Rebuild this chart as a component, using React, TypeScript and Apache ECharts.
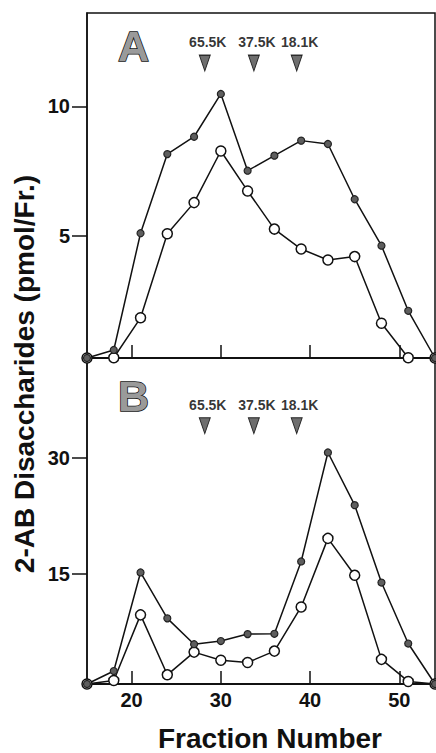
import React, { useEffect, useRef } from "react";
import * as echarts from "echarts";

// Fraction numbers sampled (every third fraction)
const fractions = [15, 18, 21, 24, 27, 30, 33, 36, 39, 42, 45, 48, 51, 54];

// Panel A values (pmol/Fr.)
const panelAFilled = [0.3, 0.61, 5.11, 8.16, 8.83, 10.48, 7.52, 8.1, 8.68, 8.55, 6.42, 4.63, 2.12, 0.3];
const panelAOpen = [0.3, 0.31, 1.85, 5.09, 6.29, 8.28, 6.74, 5.27, 4.5, 4.08, 4.21, 1.64, 0.31, 0.3];

// Panel B values (pmol/Fr.)
const panelBFilled = [0.7, 2.38, 15.14, 9.2, 5.85, 6.26, 7.16, 7.2, 16.56, 30.67, 23.85, 13.83, 5.94, 0.7];
const panelBOpen = [0.7, 1.15, 9.65, 1.89, 4.83, 3.77, 3.48, 4.96, 10.67, 19.55, 14.77, 3.89, 1.03, 0.7];

// Molecular weight markers
const markerFractions = [28.2, 33.7, 38.5];
const markerLabels = ["65.5K", "37.5K", "18.1K"];
const markerLevelA = 11.67;
const markerLevelB = 34.13;

// Ticks
const xTicks = [20, 30, 40, 50];
const yTicksA = [5, 10];
const yTicksB = [15, 30];

const FONT = "'Liberation Sans', Arial, Helvetica, sans-serif";
const INK = "#111";

export default function App() {
  const ref = useRef<HTMLDivElement>(null);

  useEffect(() => {
    if (!ref.current) return;
    const chart = echarts.init(ref.current, null, { renderer: "svg" });

    const pairs = (vals: number[]) => fractions.map((f, i) => [f, vals[i]]);
    const markerPairs = (level: number) => markerFractions.map((f) => [f, level]);

    const openStyle = {
      type: "line" as const,
      symbol: "circle",
      symbolSize: 10,
      clip: false,
      lineStyle: { color: INK, width: 1.5 },
      itemStyle: { color: "#fff", borderColor: INK, borderWidth: 1.5 },
    };
    const filledStyle = {
      type: "line" as const,
      symbol: "circle",
      symbolSize: 7,
      clip: false,
      lineStyle: { color: INK, width: 1.5 },
      itemStyle: { color: "#5e5e5e", borderColor: "#222", borderWidth: 1.2 },
    };
    const markerStyle = {
      type: "scatter" as const,
      symbol: "triangle",
      symbolRotate: 180,
      symbolSize: [11, 16],
      clip: false,
      itemStyle: { color: "#4a4a4a", borderColor: "#000", borderWidth: 1 },
      label: {
        show: true,
        position: "top" as const,
        distance: 5,
        offset: [3, 0],
        formatter: (p: any) => markerLabels[p.dataIndex],
        fontFamily: FONT,
        fontWeight: "bold" as const,
        fontSize: 14,
        color: "#000",
      },
    };

    const xAxisBase = {
      type: "value" as const,
      min: 15,
      max: 54,
      splitLine: { show: false },
      axisLine: { show: true, onZero: false, lineStyle: { color: INK, width: 2 } },
      axisTick: { show: true, inside: true, length: 13, customValues: xTicks, lineStyle: { color: INK, width: 1.5 } },
    };
    const yAxisBase = {
      type: "value" as const,
      splitLine: { show: false },
      axisLine: { show: true, lineStyle: { color: INK, width: 1.5 } },
      axisLabel: {
        margin: 17,
        fontFamily: FONT,
        fontWeight: "bold" as const,
        fontSize: 20,
        color: INK,
      },
    };

    chart.setOption({
      animation: false,
      backgroundColor: "#fff",
      title: [
        {
          text: "A",
          left: 113,
          top: 19,
          textStyle: { fontFamily: FONT, fontWeight: "bold", fontSize: 43, color: "#9a9a9a", textBorderColor: "#111", textBorderWidth: 1.5 },
        },
        {
          text: "B",
          left: 113,
          top: 369,
          textStyle: { fontFamily: FONT, fontWeight: "bold", fontSize: 43, color: "#9a9a9a", textBorderColor: "#111", textBorderWidth: 1.5 },
        },
      ],
      grid: [
        { left: 87, top: 13, width: 348, height: 345, show: true, borderColor: INK, borderWidth: 1.5, backgroundColor: "transparent" },
        { left: 87, top: 358, width: 348, height: 344, show: true, borderColor: INK, borderWidth: 1.5, backgroundColor: "transparent" },
      ],
      xAxis: [
        { ...xAxisBase, gridIndex: 0, axisLabel: { show: false } },
        {
          ...xAxisBase,
          gridIndex: 1,
          axisLabel: {
            show: true,
            customValues: xTicks,
            margin: 6,
            fontFamily: FONT,
            fontWeight: "bold",
            fontSize: 20,
            color: INK,
          },
          name: "Fraction Number",
          nameLocation: "middle",
          nameGap: 40,
          nameTextStyle: { fontFamily: FONT, fontWeight: "bold", fontSize: 28, color: INK, padding: [0, 0, 0, 18] },
        },
      ],
      yAxis: [
        {
          ...yAxisBase,
          gridIndex: 0,
          min: 0.3,
          max: 13.6,
          axisTick: { show: true, inside: false, length: 15, customValues: yTicksA, lineStyle: { color: INK, width: 1.5 } },
          axisLabel: { ...yAxisBase.axisLabel, customValues: yTicksA },
        },
        {
          ...yAxisBase,
          gridIndex: 1,
          min: 0.7,
          max: 42.9,
          axisTick: { show: true, inside: false, length: 15, customValues: yTicksB, lineStyle: { color: INK, width: 1.5 } },
          axisLabel: { ...yAxisBase.axisLabel, customValues: yTicksB },
        },
      ],
      graphic: [
        {
          type: "text",
          x: 24,
          y: 374,
          rotation: Math.PI / 2,
          style: {
            text: "2-AB Disaccharides (pmol/Fr.)",
            fontFamily: FONT,
            fontWeight: "bold",
            fontSize: 28,
            fill: INK,
            textAlign: "center",
            textVerticalAlign: "middle",
          },
        },
      ],
      series: [
        { ...openStyle, name: "A open", xAxisIndex: 0, yAxisIndex: 0, data: pairs(panelAOpen) },
        { ...filledStyle, name: "A filled", xAxisIndex: 0, yAxisIndex: 0, data: pairs(panelAFilled) },
        { ...markerStyle, name: "A markers", xAxisIndex: 0, yAxisIndex: 0, data: markerPairs(markerLevelA) },
        { ...openStyle, name: "B open", xAxisIndex: 1, yAxisIndex: 1, data: pairs(panelBOpen) },
        { ...filledStyle, name: "B filled", xAxisIndex: 1, yAxisIndex: 1, data: pairs(panelBFilled) },
        { ...markerStyle, name: "B markers", xAxisIndex: 1, yAxisIndex: 1, data: markerPairs(markerLevelB) },
      ],
    });

    return () => chart.dispose();
  }, []);

  return (
    <div
      ref={ref}
      style={{ position: "fixed", left: 0, top: 0, width: 436, height: 753, background: "#fff" }}
    />
  );
}
